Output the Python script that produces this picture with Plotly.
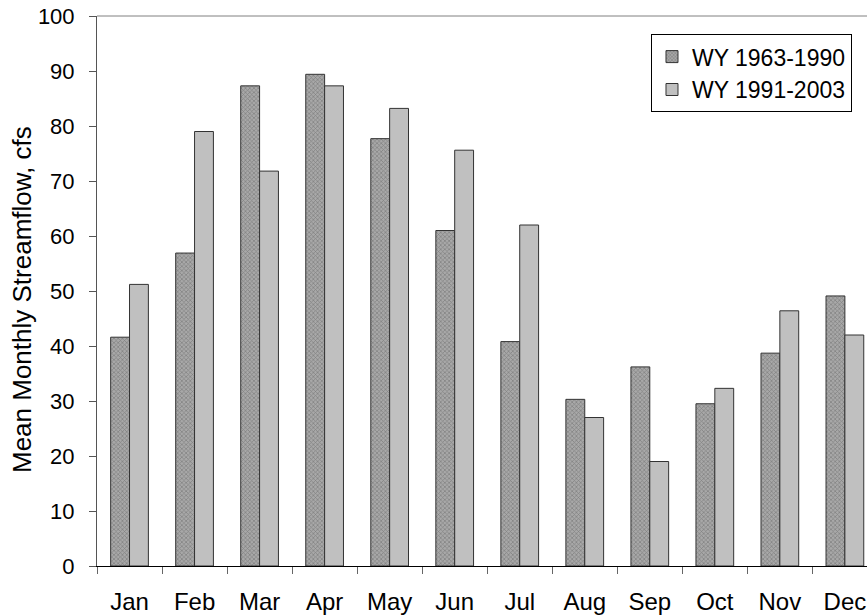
import plotly.graph_objects as go

months = ['Jan', 'Feb', 'Mar', 'Apr', 'May', 'Jun', 'Jul', 'Aug', 'Sep', 'Oct', 'Nov', 'Dec']
wy_1963_1990 = [41.6, 56.9, 87.3, 89.4, 77.7, 61.0, 40.8, 30.3, 36.2, 29.5, 38.7, 49.1]
wy_1991_2003 = [51.2, 79.0, 71.8, 87.3, 83.2, 75.6, 62.0, 27.0, 19.0, 32.3, 46.4, 42.0]

fnt = 'Liberation Sans, Arial, sans-serif'

fig = go.Figure()
fig.add_trace(go.Bar(
    x=months, y=wy_1963_1990, name='WY 1963-1990',
    marker=dict(color='#9a9a9a', line=dict(color='#333333', width=1),
                pattern=dict(shape='x', size=3, solidity=0.4,
                             fgcolor='#555555', bgcolor='#a8a8a8'))
))
fig.add_trace(go.Bar(
    x=months, y=wy_1991_2003, name='WY 1991-2003',
    marker=dict(color='#c0c0c0', line=dict(color='#333333', width=1))
))

fig.update_layout(
    width=867, height=615,
    barmode='group', bargap=0.42, bargroupgap=0,
    plot_bgcolor='white', paper_bgcolor='white',
    margin=dict(l=97, r=0, t=16, b=49, autoexpand=False),
    font=dict(family=fnt, size=24, color='black'),
    showlegend=True,
    legend=dict(x=0.9805, y=0.967, xanchor='right', yanchor='top',
                bordercolor='black', borderwidth=1, bgcolor='white',
                font=dict(size=23), tracegroupgap=0),
    xaxis=dict(range=[-0.5, 11.34], showline=True, linecolor='black', linewidth=1,
               ticks='outside', tickson='boundaries', ticklen=7, tickcolor='#666666',
               ticklabelstandoff=14, ticklabeloverflow='allow', automargin=False,
               showgrid=False, mirror=False),
    yaxis=dict(range=[0, 100], dtick=10, showline=True, linecolor='#555555', linewidth=1,
               ticks='outside', ticklen=7, tickcolor='#555555', showgrid=False,
               tickfont=dict(size=22),
               ticklabelstandoff=10, ticklabeloverflow='allow', automargin=False),
)
# y axis title
fig.add_annotation(text='Mean Monthly Streamflow, cfs', textangle=-90,
                   xref='paper', yref='paper', x=0, y=0.4836,
                   xanchor='center', yanchor='middle', xshift=-75,
                   showarrow=False, font=dict(size=26))
# top border line of plot area
fig.add_shape(type='line', xref='paper', yref='paper', x0=0, x1=1, y0=1, y1=1,
              line=dict(color='#808080', width=1))

# drop the default page margin so the figure fills the window, no modebar
fig.write_html('out.html', config={'displayModeBar': False},
               post_script="document.body.style.margin='0';")
